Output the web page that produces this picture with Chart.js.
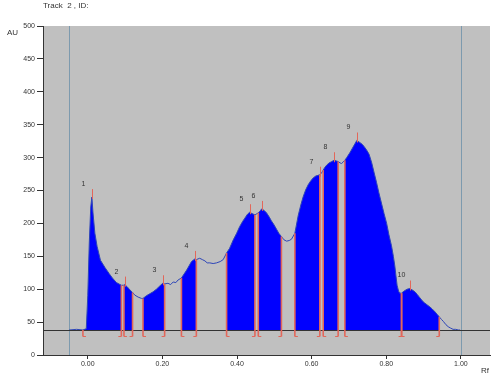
<!DOCTYPE html>
<html><head><meta charset="utf-8">
<script src="https://cdn.jsdelivr.net/npm/chart.js@4/dist/chart.umd.min.js"></script>
<style>
html,body{margin:0;padding:0;background:#fff;}
#wrap{position:relative;width:494px;height:380px;overflow:hidden;}
canvas{position:absolute;left:0;top:0;}
.lbl{position:absolute;font:8px "Liberation Sans",Arial,sans-serif;color:#333;white-space:nowrap;line-height:10px;}
</style></head><body>
<div id="wrap">
<canvas id="c" width="494" height="380"></canvas>
<div class="lbl" style="left:43px;top:1px">Track&nbsp; 2 , ID:</div>
<div class="lbl" style="left:7px;top:28px">AU</div>
<div class="lbl" style="left:481px;top:366px">Rf</div>
</div>
<script>
// ---- data ----
const rf = [-0.050,-0.030,-0.013,-0.004,0.000,0.004,0.008,0.011,0.014,0.019,0.025,0.034,0.046,0.057,0.066,0.077,0.090,
0.097,0.099,0.105,0.113,0.120,0.126,0.135,0.144,0.148,0.157,0.166,0.175,0.184,0.193,0.201,0.206,0.215,0.222,0.229,0.236,0.242,
0.251,0.258,0.265,0.272,0.278,0.287,0.291,0.300,0.307,0.314,0.320,0.327,0.336,0.345,0.355,0.363,
0.372,0.380,0.390,0.399,0.407,0.415,0.421,0.428,0.434,0.440,0.448,0.457,0.462,0.466,0.472,0.479,0.486,0.492,0.499,0.506,0.512,0.519,
0.526,0.533,0.540,0.546,0.555,0.564,0.571,0.577,0.584,0.591,0.598,0.604,0.611,0.617,0.622,0.626,0.631,0.635,0.641,0.647,0.654,0.660,0.666,0.671,
0.676,0.680,0.684,0.689,0.694,0.702,0.711,0.716,0.721,0.729,0.736,0.743,0.749,0.754,0.761,0.767,0.774,0.780,0.787,0.794,0.801,0.807,0.814,0.819,0.823,0.826,0.829,0.833,0.836,0.841,
0.845,0.850,0.856,0.863,0.869,0.877,0.883,0.890,0.897,0.903,0.910,0.917,0.923,0.930,0.936,0.942,0.948,0.953,0.960,0.966,0.972,0.979,0.986,0.993,0.998];
const au = [38,39,38,40,90,170,225,240,216,185,165,144,133,124,117,110,106,
106,107,104,99,95,91,88,86,86,90,93,96,100,105,109,108,109,107,111,110,114,
117,123,129,136,142,146,145,147,145,143,140,140,139,140,142,145,
155,162,175,185,195,203,208,214,217,215,213,216,219,222,220,216,210,204,198,191,185,180,
175,173,174,176,185,212,228,240,251,259,265,269,272,273,274,276,281,285,289,292,294,296,295,294,
292,291,293,296,300,307,316,321,326,323,320,315,310,305,292,278,262,247,231,215,200,183,166,150,135,120,106,97,94,94,
96,98,100,101,99,96,92,87,82,79,76,73,70,66,62,58,54,51,46,43,41,39,39,38,38];
const baselineAU = 38;
const peakStart = [-0.013,0.097,0.148,0.251,0.372,0.457,0.555,0.631,0.689,0.841];
const peakEnd   = [0.090,0.120,0.206,0.291,0.448,0.519,0.622,0.671,0.841,0.942];
const peakRf    = [0.011,0.099,0.201,0.287,0.434,0.466,0.622,0.660,0.721,0.863];
const peakAu    = [240,107,109,146,217,222,274,296,326,101];
const peakLabels = ['1','2','3','4','5','6','7','8','9','10'];
const refLines = [-0.05, 1.00];
const xTicks = [0.00,0.20,0.40,0.60,0.80,1.00];
const yTicks = [0,50,100,150,200,250,300,350,400,450,500];

// ---- datasets ----
const curve = rf.map((x,i)=>({x, y: au[i]}));
const regionSets = peakStart.map((s,k)=>({
  data: curve.filter(p => p.x >= s && p.x <= peakEnd[k]),
  borderWidth: 0, pointRadius: 0, tension: 0,
  backgroundColor: '#0000ff', fill: {value: baselineAU}
}));
function auAt(v){ const i = rf.indexOf(v); return i>=0 ? au[i] : baselineAU; }

const FONT = {family: '"Liberation Sans", Arial, sans-serif', size: 7};
const RED = '#e2675a';

const deco = {
  id: 'deco',
  beforeDraw(chart){
    const {ctx, chartArea:a} = chart;
    ctx.save(); ctx.fillStyle = '#c0c0c0';
    ctx.fillRect(a.left, a.top, a.right-a.left, a.bottom-a.top); ctx.restore();
  },
  beforeDatasetsDraw(chart){
    const {ctx, chartArea:a, scales:{x}} = chart;
    ctx.save(); ctx.strokeStyle = '#7d9aae'; ctx.lineWidth = 1;
    refLines.forEach(v=>{ const px = Math.round(x.getPixelForValue(v))+0.5;
      ctx.beginPath(); ctx.moveTo(px, a.top); ctx.lineTo(px, a.bottom); ctx.stroke(); });
    ctx.restore();
  },
  afterDatasetsDraw(chart){
    const {ctx, chartArea:a, scales:{x,y}} = chart;
    const yb = Math.round(y.getPixelForValue(baselineAU))+0.5;
    ctx.save();
    ctx.strokeStyle = '#333'; ctx.lineWidth = 1;
    ctx.beginPath(); ctx.moveTo(a.left, yb); ctx.lineTo(a.right, yb); ctx.stroke();
    ctx.strokeStyle = RED;
    const drawB = (v, dir) => {
      const px = x.getPixelForValue(v);
      ctx.lineWidth = 1.6;
      ctx.beginPath(); ctx.moveTo(px, y.getPixelForValue(auAt(v))); ctx.lineTo(px, yb+6); ctx.stroke();
      ctx.lineWidth = 1;
      ctx.beginPath(); ctx.moveTo(px, yb+6); ctx.lineTo(px+dir*3, yb+6); ctx.stroke();
    };
    peakStart.forEach(v=>drawB(v, 1));
    peakEnd.forEach(v=>drawB(v, -1));
    ctx.lineWidth = 1;
    ctx.fillStyle = '#333';
    ctx.font = '7px "Liberation Sans", Arial, sans-serif';
    ctx.textAlign = 'center'; ctx.textBaseline = 'middle';
    peakRf.forEach((v,k)=>{
      const px = Math.round(x.getPixelForValue(v))+0.5, py = y.getPixelForValue(peakAu[k]);
      ctx.beginPath(); ctx.moveTo(px, py+2); ctx.lineTo(px, py-8); ctx.stroke();
      ctx.fillText(peakLabels[k], px-9, py-13);
    });
    ctx.restore();
  }
};

new Chart(document.getElementById('c'), {
  type: 'line',
  data: { datasets: [
    { data: curve, borderColor: '#2d45b8', borderWidth: 1, pointRadius: 0, tension: 0, fill: false },
    ...regionSets
  ]},
  options: {
    responsive: false, animation: false, events: [],
    layout: { padding: {top: 26, right: 4, left: 0, bottom: 0} },
    plugins: { legend: {display: false}, tooltip: {enabled: false}, title: {display: false} },
    scales: {
      x: { type: 'linear', min: -0.12, max: 1.078,
        afterFit: s => { s.height = 25; },
        afterBuildTicks: s => { s.ticks = xTicks.map(v=>({value: v})); },
        ticks: { font: FONT, color: '#333', padding: 1, maxRotation: 0, autoSkip: false,
                 callback: v => Number(v).toFixed(2) },
        grid: { drawOnChartArea: false, drawTicks: true, tickLength: 4, color: '#333' },
        border: { display: true, color: '#333' } },
      y: { type: 'linear', min: 0, max: 500,
        afterFit: s => { s.width = 43; },
        afterBuildTicks: s => { s.ticks = yTicks.map(v=>({value: v})); },
        ticks: { font: FONT, color: '#333', padding: 2 },
        grid: { drawOnChartArea: false, drawTicks: true, tickLength: 6, color: '#333' },
        border: { display: true, color: '#333' } }
    }
  },
  plugins: [deco]
});
</script>
</body></html>
